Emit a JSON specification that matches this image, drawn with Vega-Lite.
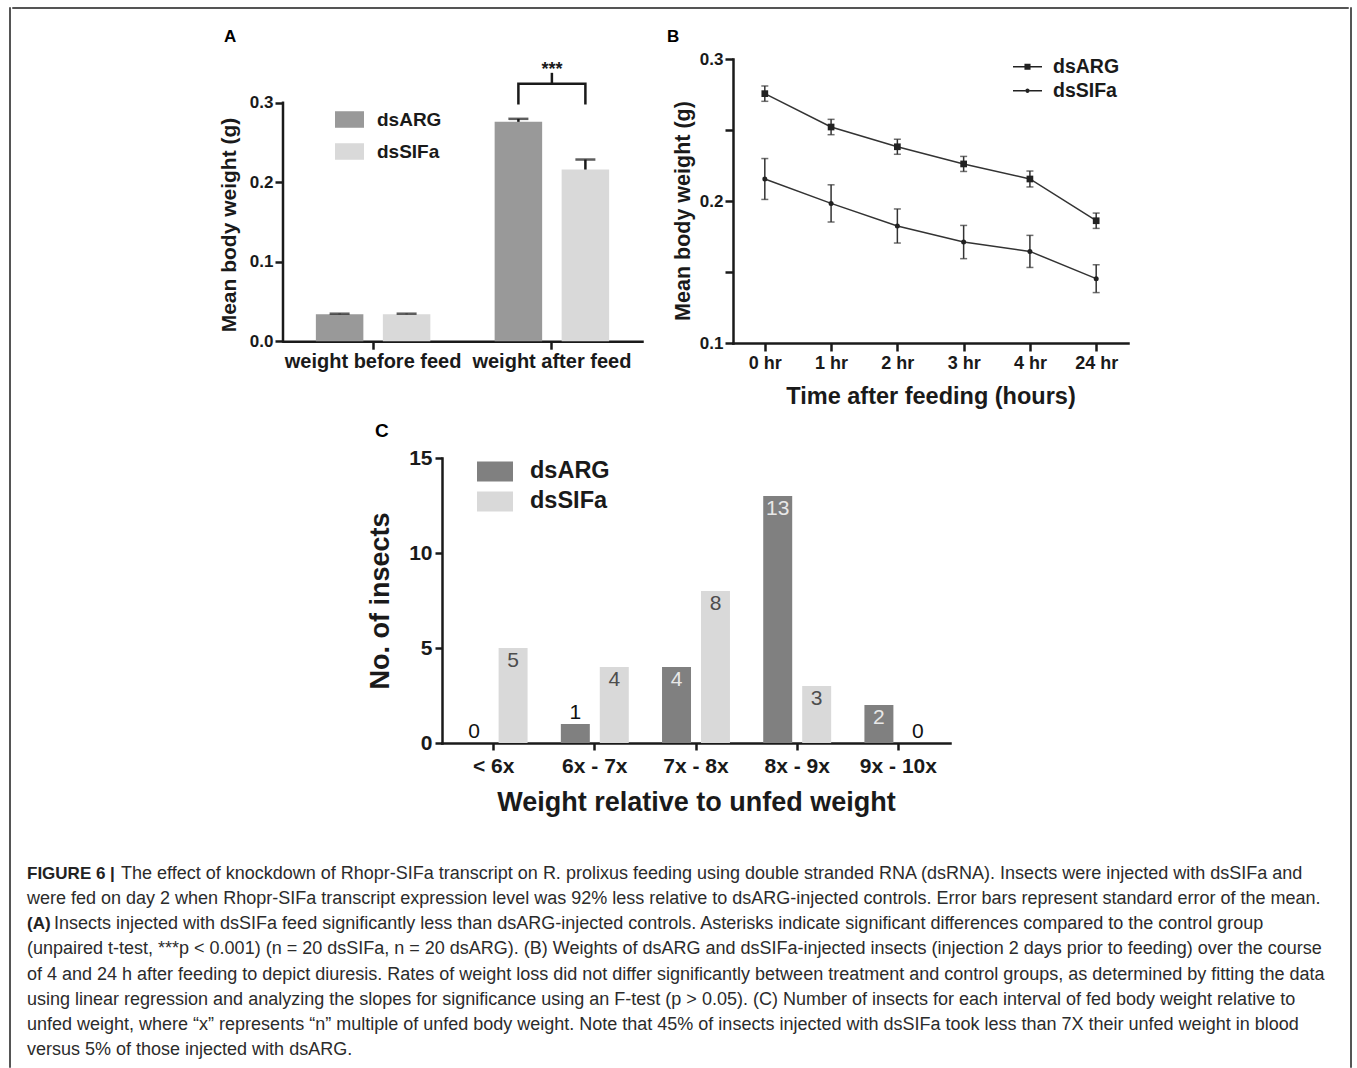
{
  "$schema": "https://vega.github.io/schema/vega-lite/v6.json",
  "background": "white",
  "padding": {"left": 8, "top": 6, "right": 8, "bottom": 0},
  "spacing": 0,
  "resolve": {"scale": {"fill": "independent", "shape": "independent", "xOffset": "independent"}, "legend": {"fill": "independent", "shape": "independent"}},
  "datasets": {
    "a": [
      {"time": "weight before feed", "group": "dsARG", "mean": 0.034, "upper": 0.0346},
      {"time": "weight before feed", "group": "dsSIFa", "mean": 0.034, "upper": 0.0346},
      {"time": "weight after feed", "group": "dsARG", "mean": 0.276, "upper": 0.2798},
      {"time": "weight after feed", "group": "dsSIFa", "mean": 0.216, "upper": 0.2286}
    ],
    "abr": [
      {"time": "weight after feed", "group": "dsARG", "val": 0.2978, "k": 1},
      {"time": "weight after feed", "group": "dsARG", "val": 0.3239, "k": 2},
      {"time": "weight after feed", "group": "dsSIFa", "val": 0.3239, "k": 3},
      {"time": "weight after feed", "group": "dsSIFa", "val": 0.2978, "k": 4}
    ],
    "abc": [
      {"time": "weight after feed", "lo": 0.3239, "hi": 0.3377, "star": 0.341, "label": "***"}
    ],
    "aaxis": [
      {"lo": 0, "hi": 0.3}
    ],
    "b": [
      {"time": "0 hr", "hours": 0, "group": "dsARG", "mean": 0.2756, "lo": 0.2702, "hi": 0.2810},
      {"time": "1 hr", "hours": 1, "group": "dsARG", "mean": 0.2521, "lo": 0.2467, "hi": 0.2575},
      {"time": "2 hr", "hours": 2, "group": "dsARG", "mean": 0.2382, "lo": 0.2329, "hi": 0.2435},
      {"time": "3 hr", "hours": 3, "group": "dsARG", "mean": 0.2261, "lo": 0.2208, "hi": 0.2314},
      {"time": "4 hr", "hours": 4, "group": "dsARG", "mean": 0.2155, "lo": 0.2099, "hi": 0.2211},
      {"time": "24 hr", "hours": 24, "group": "dsARG", "mean": 0.1861, "lo": 0.1807, "hi": 0.1915},
      {"time": "0 hr", "hours": 0, "group": "dsSIFa", "mean": 0.2155, "lo": 0.2011, "hi": 0.2299},
      {"time": "1 hr", "hours": 1, "group": "dsSIFa", "mean": 0.1983, "lo": 0.1852, "hi": 0.2114},
      {"time": "2 hr", "hours": 2, "group": "dsSIFa", "mean": 0.1824, "lo": 0.1704, "hi": 0.1944},
      {"time": "3 hr", "hours": 3, "group": "dsSIFa", "mean": 0.1711, "lo": 0.1594, "hi": 0.1828},
      {"time": "4 hr", "hours": 4, "group": "dsSIFa", "mean": 0.1645, "lo": 0.1532, "hi": 0.1758},
      {"time": "24 hr", "hours": 24, "group": "dsSIFa", "mean": 0.1453, "lo": 0.1355, "hi": 0.1551}
    ],
    "c": [
      {"bin": "< 6x", "group": "dsARG", "count": 0},
      {"bin": "< 6x", "group": "dsSIFa", "count": 5},
      {"bin": "6x - 7x", "group": "dsARG", "count": 1},
      {"bin": "6x - 7x", "group": "dsSIFa", "count": 4},
      {"bin": "7x - 8x", "group": "dsARG", "count": 4},
      {"bin": "7x - 8x", "group": "dsSIFa", "count": 8},
      {"bin": "8x - 9x", "group": "dsARG", "count": 13},
      {"bin": "8x - 9x", "group": "dsSIFa", "count": 3},
      {"bin": "9x - 10x", "group": "dsARG", "count": 2},
      {"bin": "9x - 10x", "group": "dsSIFa", "count": 0}
    ],
    "cap": [
      {"line": 1, "pre": "FIGURE 6 |", "text": "The effect of knockdown of Rhopr-SIFa transcript on R. prolixus feeding using double stranded RNA (dsRNA). Insects were injected with dsSIFa and"},
      {"line": 2, "pre": "", "text": "were fed on day 2 when Rhopr-SIFa transcript expression level was 92% less relative to dsARG-injected controls. Error bars represent standard error of the mean."},
      {"line": 3, "pre": "(A)", "text": "Insects injected with dsSIFa feed significantly less than dsARG-injected controls. Asterisks indicate significant differences compared to the control group"},
      {"line": 4, "pre": "", "text": "(unpaired t-test, ***p < 0.001) (n = 20 dsSIFa, n = 20 dsARG). (B) Weights of dsARG and dsSIFa-injected insects (injection 2 days prior to feeding) over the course"},
      {"line": 5, "pre": "", "text": "of 4 and 24 h after feeding to depict diuresis. Rates of weight loss did not differ significantly between treatment and control groups, as determined by fitting the data"},
      {"line": 6, "pre": "", "text": "using linear regression and analyzing the slopes for significance using an F-test (p > 0.05). (C) Number of insects for each interval of fed body weight relative to"},
      {"line": 7, "pre": "", "text": "unfed weight, where “x” represents “n” multiple of unfed body weight. Note that 45% of insects injected with dsSIFa took less than 7X their unfed weight in blood"},
      {"line": 8, "pre": "", "text": "versus 5% of those injected with dsARG."}
    ]
  },
  "hconcat": [
    {"width": 1, "height": 1060, "view": {"stroke": "#555555", "strokeWidth": 1}, "data": {"values": []}, "mark": "point"},
    {
      "spacing": 0,
      "resolve": {"scale": {"fill": "independent", "shape": "independent", "xOffset": "independent"}, "legend": {"fill": "independent", "shape": "independent"}},
      "vconcat": [
        {"width": 1336, "height": 1, "view": {"stroke": "#555555", "strokeWidth": 1}, "data": {"values": []}, "mark": "point"},
        {"width": 1, "height": 18, "data": {"values": []}, "mark": "point"},
        {
          "spacing": 25,
          "resolve": {"scale": {"fill": "independent", "shape": "independent", "xOffset": "independent"}, "legend": {"fill": "independent", "shape": "independent"}},
          "hconcat": [
            {"width": 181, "height": 1, "data": {"values": []}, "mark": "point"},
            {
              "width": 359,
              "height": 282.2,
              "title": {"text": "A", "dx": -59, "offset": 13.5, "fontSize": 17},
              "resolve": {"scale": {"x": "independent"}, "axis": {"x": "independent"}},
              "layer": [
                {
                  "layer": [
                    {
                      "data": {"name": "a"},
                      "mark": {"type": "bar"},
                      "encoding": {
                        "x": {"field": "time", "type": "nominal", "scale": {"domain": ["weight before feed", "weight after feed"], "paddingInner": 0.2, "paddingOuter": 0.104}, "axis": {"title": null, "labelAngle": 0, "labelFontSize": 20, "tickSize": 8, "labelPadding": 2, "orient": "bottom"}},
                        "xOffset": {"field": "group", "type": "nominal", "scale": {"domain": ["dsARG", "dsSIFa"], "paddingInner": 0.291, "paddingOuter": 0.213}},
                        "y": {"field": "mean", "type": "quantitative", "scale": {"domain": [0, 0.3551], "nice": false}, "axis": {"values": [0, 0.1, 0.2, 0.3], "format": ".1f", "domain": false, "title": "Mean body weight (g)", "titleY": 165.5, "labelFontSize": 17, "titleFontSize": 21, "tickSize": 8, "labelPadding": 2, "titlePadding": 9.5}},
                        "fill": {"field": "group", "type": "nominal", "scale": {"domain": ["dsARG", "dsSIFa"], "range": ["#999999", "#d9d9d9"]}, "legend": {"title": null, "orient": "none", "legendX": 52, "legendY": 46, "symbolType": "M-1,-0.57H1V0.57H-1Z", "symbolSize": 841, "symbolStrokeWidth": 0, "labelFontSize": 19, "labelOffset": 13, "rowPadding": 7}}
                      }
                    },
                    {
                      "data": {"name": "a"},
                      "mark": {"type": "rule", "color": "#1a1a1a", "strokeWidth": 2.5},
                      "encoding": {
                        "x": {"field": "time", "type": "nominal", "title": null},
                        "xOffset": {"field": "group", "type": "nominal"},
                        "y": {"field": "mean", "type": "quantitative", "title": "Mean body weight (g)"},
                        "y2": {"field": "upper"}
                      }
                    },
                    {
                      "data": {"name": "a"},
                      "mark": {"type": "tick", "color": "#1a1a1a", "thickness": 2.5, "size": 20, "orient": "horizontal"},
                      "encoding": {
                        "x": {"field": "time", "type": "nominal", "title": null},
                        "xOffset": {"field": "group", "type": "nominal"},
                        "y": {"field": "upper", "type": "quantitative", "title": "Mean body weight (g)"}
                      }
                    },
                    {
                      "data": {"name": "abr"},
                      "mark": {"type": "line", "color": "#1a1a1a", "strokeWidth": 2.5},
                      "encoding": {
                        "x": {"field": "time", "type": "nominal", "title": null},
                        "xOffset": {"field": "group", "type": "nominal"},
                        "y": {"field": "val", "type": "quantitative", "title": "Mean body weight (g)"},
                        "order": {"field": "k", "type": "quantitative"}
                      }
                    },
                    {
                      "data": {"name": "abc"},
                      "mark": {"type": "rule", "color": "#1a1a1a", "strokeWidth": 2.5},
                      "encoding": {
                        "x": {"field": "time", "type": "nominal", "title": null},
                        "y": {"field": "lo", "type": "quantitative", "title": "Mean body weight (g)"},
                        "y2": {"field": "hi"}
                      }
                    },
                    {
                      "data": {"name": "abc"},
                      "mark": {"type": "text", "fontSize": 18, "fontWeight": "bold", "baseline": "middle", "color": "#1a1a1a"},
                      "encoding": {
                        "x": {"field": "time", "type": "nominal", "title": null},
                        "y": {"field": "star", "type": "quantitative", "title": "Mean body weight (g)"},
                        "text": {"field": "label"}
                      }
                    }
                  ]
                },
                {
                  "data": {"name": "aaxis"},
                  "mark": {"type": "rule", "color": "#1a1a1a", "strokeWidth": 2.5, "strokeCap": "square"},
                  "encoding": {
                    "x": {"datum": 0, "type": "quantitative", "scale": {"domain": [0, 1]}, "axis": null},
                    "y": {"field": "lo", "type": "quantitative", "title": "Mean body weight (g)"},
                    "y2": {"field": "hi"}
                  }
                }
              ]
            },
            {
              "width": 395,
              "height": 284,
              "title": {"text": "B", "dx": -66, "offset": 3.8, "fontSize": 17},
              "data": {"name": "b"},
              "layer": [
                {
                  "mark": {"type": "line", "color": "#333333", "strokeWidth": 1.5},
                  "encoding": {
                    "x": {"field": "time", "type": "nominal", "scale": {"type": "point", "domain": ["0 hr", "1 hr", "2 hr", "3 hr", "4 hr", "24 hr"], "padding": 0.48}, "axis": {"title": "Time after feeding (hours)", "labelAngle": 0, "labelFontSize": 18, "titleFontSize": 23.5, "tickSize": 8, "labelPadding": 3, "titlePadding": 12}},
                    "y": {"field": "mean", "type": "quantitative", "scale": {"domain": [0.1, 0.3], "nice": false}, "axis": {"values": [0.1, 0.15, 0.2, 0.25, 0.3], "labelExpr": "round(datum.value*100) % 10 == 0 ? format(datum.value, '.1f') : ''", "title": "Mean body weight (g)", "titleY": 151.5, "labelFontSize": 17, "titleFontSize": 21.5, "tickSize": 8, "labelPadding": 2, "titlePadding": 4.6}},
                    "detail": {"field": "group"},
                    "order": {"field": "hours", "type": "quantitative"}
                  }
                },
                {
                  "mark": {"type": "rule", "color": "#333333", "strokeWidth": 1.5},
                  "encoding": {
                    "x": {"field": "time", "type": "nominal"},
                    "y": {"field": "lo", "type": "quantitative", "title": "Mean body weight (g)"},
                    "y2": {"field": "hi"}
                  }
                },
                {
                  "mark": {"type": "tick", "color": "#333333", "thickness": 1.5, "size": 7, "orient": "horizontal"},
                  "encoding": {
                    "x": {"field": "time", "type": "nominal"},
                    "y": {"field": "lo", "type": "quantitative", "title": "Mean body weight (g)"}
                  }
                },
                {
                  "mark": {"type": "tick", "color": "#333333", "thickness": 1.5, "size": 7, "orient": "horizontal"},
                  "encoding": {
                    "x": {"field": "time", "type": "nominal"},
                    "y": {"field": "hi", "type": "quantitative", "title": "Mean body weight (g)"}
                  }
                },
                {
                  "transform": [{"filter": "datum.group === 'dsARG'"}],
                  "mark": {"type": "point", "shape": "square", "filled": true, "size": 45, "color": "#222222", "opacity": 1},
                  "encoding": {
                    "x": {"field": "time", "type": "nominal"},
                    "y": {"field": "mean", "type": "quantitative", "title": "Mean body weight (g)"}
                  }
                },
                {
                  "transform": [{"filter": "datum.group === 'dsSIFa'"}],
                  "mark": {"type": "point", "shape": "circle", "filled": true, "size": 25, "color": "#222222", "opacity": 1},
                  "encoding": {
                    "x": {"field": "time", "type": "nominal"},
                    "y": {"field": "mean", "type": "quantitative", "title": "Mean body weight (g)"}
                  }
                },
                {
                  "transform": [{"filter": "false"}],
                  "mark": {"type": "point", "filled": true, "color": "#222222", "opacity": 1},
                  "encoding": {
                    "shape": {"field": "group", "type": "nominal", "scale": {"domain": ["dsARG", "dsSIFa"], "range": ["M-1,-0.05H-0.21V0.05H-1ZM0.21,-0.05H1V0.05H0.21ZM-0.21,-0.21H0.21V0.21H-0.21Z", "M-1,-0.05H-0.15V0.05H-1ZM0.15,-0.05H1V0.05H0.15ZM-0.15,0A0.15,0.15,0,1,1,0.15,0A0.15,0.15,0,1,1,-0.15,0Z"]}, "legend": {"title": null, "orient": "none", "legendX": 280, "legendY": -6.8, "symbolSize": 841, "symbolStrokeWidth": 0, "symbolFillColor": "#222222", "labelFontSize": 19.5, "labelOffset": 11, "rowPadding": -2}}
                  }
                }
              ]
            }
          ]
        },
        {"width": 1, "height": 13, "data": {"values": []}, "mark": "point"},
        {
          "spacing": 0,
          "resolve": {"scale": {"fill": "independent", "shape": "independent", "xOffset": "independent"}, "legend": {"fill": "independent", "shape": "independent"}},
          "hconcat": [
            {"width": 354, "height": 1, "data": {"values": []}, "mark": "point"},
            {
              "width": 508,
              "height": 285,
              "title": {"text": "C", "dx": -67, "offset": 6.1, "fontSize": 19},
              "data": {"name": "c"},
              "encoding": {
                "x": {"field": "bin", "type": "nominal", "scale": {"domain": ["< 6x", "6x - 7x", "7x - 8x", "8x - 9x", "9x - 10x"], "paddingInner": 0.2, "paddingOuter": 0.11}, "axis": {"title": "Weight relative to unfed weight", "labelAngle": 0, "labelFontSize": 21, "titleFontSize": 27, "tickSize": 7, "labelPadding": 5, "titlePadding": 13}},
                "xOffset": {"field": "group", "type": "nominal", "scale": {"domain": ["dsARG", "dsSIFa"], "paddingInner": 0.256, "paddingOuter": 0.167}},
                "y": {"field": "count", "type": "quantitative", "scale": {"domain": [0, 15], "nice": false}, "axis": {"values": [0, 5, 10, 15], "title": "No. of insects", "labelFontSize": 21, "titleFontSize": 27, "tickSize": 7, "labelPadding": 3, "titlePadding": 14}}
              },
              "layer": [
                {
                  "mark": {"type": "bar"},
                  "encoding": {
                    "fill": {"field": "group", "type": "nominal", "scale": {"domain": ["dsARG", "dsSIFa"], "range": ["#808080", "#d9d9d9"]}, "legend": {"title": null, "orient": "none", "legendX": 35, "legendY": -4.6, "symbolType": "M-1,-0.556H1V0.556H-1Z", "symbolSize": 1296, "symbolStrokeWidth": 0, "labelFontSize": 23.5, "labelOffset": 17, "rowPadding": -3.5}}
                  }
                },
                {
                  "transform": [{"filter": "datum.count >= 2"}],
                  "mark": {"type": "text", "fontSize": 21, "baseline": "middle", "dy": 13},
                  "encoding": {
                    "text": {"field": "count", "type": "quantitative"},
                    "color": {"condition": {"test": "datum.group === 'dsARG'", "value": "#e8e8e8"}, "value": "#4d4d4d"}
                  }
                },
                {
                  "transform": [{"filter": "datum.count < 2"}],
                  "mark": {"type": "text", "fontSize": 21, "baseline": "middle", "dy": -11, "color": "#111111"},
                  "encoding": {
                    "text": {"field": "count", "type": "quantitative"}
                  }
                }
              ]
            }
          ]
        },
        {"width": 1, "height": 50, "data": {"values": []}, "mark": "point"},
        {
          "spacing": 0,
          "hconcat": [
            {"width": 15, "height": 1, "data": {"values": []}, "mark": "point"},
            {
              "width": 1300,
              "height": 176,
              "data": {"name": "cap"},
              "encoding": {
                "y": {"field": "line", "type": "ordinal", "scale": {"type": "point", "padding": 0}, "axis": null},
                "x": {"datum": 0, "type": "quantitative", "scale": {"domain": [0, 1]}, "axis": null}
              },
              "layer": [
                {
                  "transform": [{"filter": "datum.pre != ''"}],
                  "mark": {"type": "text", "align": "left", "baseline": "middle", "font": "Liberation Sans", "fontSize": 17, "fontWeight": "bold", "color": "#222222"},
                  "encoding": {"text": {"field": "pre"}}
                },
                {
                  "transform": [{"filter": "datum.pre == ''"}],
                  "mark": {"type": "text", "align": "left", "baseline": "middle", "font": "Liberation Sans", "fontSize": 18, "color": "#2b2b2b"},
                  "encoding": {"text": {"field": "text"}}
                },
                {
                  "transform": [{"filter": "datum.line == 1"}],
                  "mark": {"type": "text", "align": "left", "baseline": "middle", "font": "Liberation Sans", "fontSize": 18, "color": "#2b2b2b", "dx": 94},
                  "encoding": {"text": {"field": "text"}}
                },
                {
                  "transform": [{"filter": "datum.line == 3"}],
                  "mark": {"type": "text", "align": "left", "baseline": "middle", "font": "Liberation Sans", "fontSize": 18, "color": "#2b2b2b", "dx": 27},
                  "encoding": {"text": {"field": "text"}}
                }
              ]
            }
          ]
        }
      ]
    },
    {"width": 1, "height": 1060, "view": {"stroke": "#555555", "strokeWidth": 1}, "data": {"values": []}, "mark": "point"}
  ],
  "config": {
    "font": "Liberation Sans",
    "view": {"stroke": null},
    "axis": {
      "domainColor": "#1a1a1a", "tickColor": "#1a1a1a", "labelColor": "#1a1a1a", "titleColor": "#1a1a1a",
      "domainWidth": 2.5, "tickWidth": 2.5, "labelFontWeight": "bold", "titleFontWeight": "bold",
      "labelFont": "Liberation Sans", "titleFont": "Liberation Sans", "grid": false, "domainCap": "square"
    },
    "legend": {"labelFont": "Liberation Sans", "labelFontWeight": "bold", "labelColor": "#1a1a1a", "padding": 0},
    "title": {"font": "Liberation Sans", "fontWeight": "bold", "color": "#000000", "anchor": "start", "frame": "group", "baseline": "alphabetic"}
  }
}
